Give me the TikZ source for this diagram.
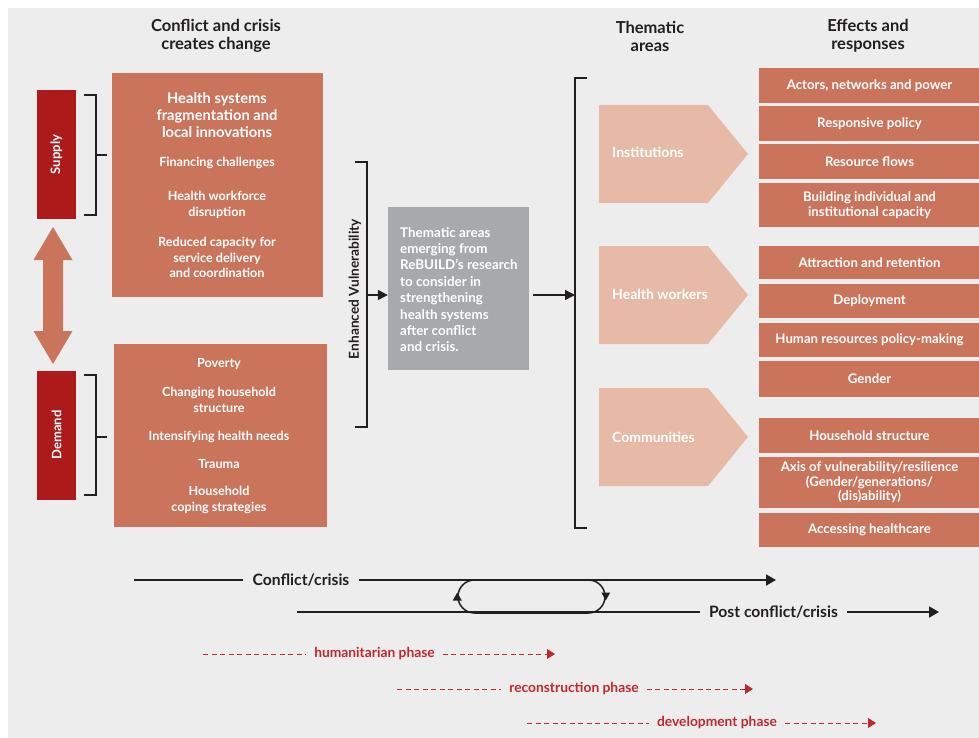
\documentclass[tikz,border=0pt]{standalone}
\usepackage{fontspec}
\setmainfont{Lato}
\usetikzlibrary{arrows.meta,shapes.misc,calc}

\definecolor{bggray}{RGB}{237,237,237}
\definecolor{ink}{RGB}{35,31,32}
\definecolor{causefill}{RGB}{202,116,92}
\definecolor{darkred}{RGB}{173,26,26}
\definecolor{peach}{RGB}{230,186,166}
\definecolor{greybox}{RGB}{167,169,172}
\definecolor{phasered}{RGB}{192,40,45}

\begin{document}
\begin{tikzpicture}[x=1pt, y=-1pt,
	header/.style={align=center, text=ink, font=\bfseries\fontsize{16.5}{18}\selectfont},
	sidebar/.style={fill=darkred, text=white, rotate=90, minimum width=129, minimum height=39,
		inner sep=0, font=\bfseries\fontsize{13}{14}\selectfont},
	cause/.style={fill=causefill, inner sep=0},
	item/.style={text=white, align=center, inner sep=0, font=\bfseries\fontsize{12.6}{16}\selectfont},
	bracket/.style={draw=ink, line width=1.6pt},
	flow/.style={draw=ink, line width=1.5pt, -{Triangle[length=10pt,width=10pt]}},
	effect/.style={fill=causefill, text=white, align=center, minimum width=221, inner sep=0,
		font=\bfseries\fontsize{13.2}{14.5}\selectfont},
	themetxt/.style={anchor=west, text=white, inner sep=0, font=\bfseries\fontsize{14}{16}\selectfont},
	timeline/.style={draw=ink, line width=1.8pt},
	timetxt/.style={text=ink, inner xsep=9pt, font=\bfseries\fontsize{15.7}{17}\selectfont},
	phase/.style={draw=phasered, line width=0.9pt, dash pattern=on 5pt off 3.5pt},
	phasetxt/.style={text=phasered, inner xsep=8pt, font=\bfseries\fontsize{13.8}{15}\selectfont},
]

% canvas %{{{2

	\useasboundingbox (0,0) rectangle (979,738);
	\fill[bggray] (8,8) rectangle (979,738);

% headers %{{{2

	\node[header] (hcrisis) at (216,36) {Conflict and crisis\\creates change};
	\node[header] (htheme)  at (650,36) {Thematic\\areas};
	\node[header] (heffect) at (868,36) {Effects and\\responses};

% supply and demand %{{{2

	\node[sidebar] (supply) at (56.5,154.5) {Supply};
	\node[sidebar] (demand) at (56.5,435)   {Demand};

	% two way arrow
	\fill[causefill] (53,227) -- (72.5,260) -- (63,260) -- (63,331) -- (72.5,331)
		-- (53,364) -- (33.5,331) -- (43,331) -- (43,260) -- (33.5,260) -- cycle;

	% brackets
	\draw[bracket] (84,95) -- (96,95) -- (96,215) -- (84,215);
	\draw[bracket] (96,155) -- (107,155);
	\draw[bracket] (84,375) -- (96,375) -- (96,495) -- (84,495);
	\draw[bracket] (96,437) -- (107,437);

% cause boxes %{{{2

	\node[cause, minimum width=211, minimum height=224] (health) at (217.5,185) {};
	\node[cause, minimum width=213, minimum height=183] (house)  at (220.5,435.5) {};

	\node[item, font=\bfseries\fontsize{14.7}{17}\selectfont] (frag) at (217,115.5)
		{Health systems\\fragmentation and\\local innovations};
	\node[item] (fin)  at (217,163)   {Financing challenges};
	\node[item] (work) at (217,204.5) {Health workforce\\disruption};
	\node[item, font=\bfseries\fontsize{12.6}{15.5}\selectfont] (capac) at (217,257.5)
		{Reduced capacity for\\service delivery\\and coordination};

	\node[item] (pov)  at (219,364)   {Poverty};
	\node[item] (chg)  at (219,400)   {Changing household\\structure};
	\node[item] (need) at (219,437)   {Intensifying health needs};
	\node[item] (trau) at (219,464)   {Trauma};
	\node[item] (cope) at (219,499.5) {Household\\coping strategies};

% enhanced vulnerability %{{{2

	\draw[bracket] (355,162) -- (367,162) -- (367,427) -- (355,427);
	\coordinate (evbr) at (367,295);
	\node[rotate=90, text=ink, inner sep=0, font=\bfseries\fontsize{13.7}{16}\selectfont]
		(evtxt) at (355,289) {Enhanced Vulnerability};

	\node[fill=greybox, minimum width=141, minimum height=163, inner sep=0] (grey) at (458.5,288.5) {};
	\node[item, anchor=west, align=left, font=\bfseries\fontsize{13.4}{16.4}\selectfont]
		(greytxt) at (400,289.5) {Thematic areas\\emerging from\\ReBUILD's research\\to consider in\\strengthening\\health systems\\after conflict\\and crisis.};

	\draw[flow] (evbr) -- (evbr -| grey.west);

	% big bracket
	\coordinate (bigbr) at (575,295);
	\draw[flow] ([xshift=4pt]grey.east |- bigbr) -- (bigbr);
	\draw[bracket] (587,78) -- (575,78) -- (575,528) -- (587,528);

% thematic areas %{{{2

	\foreach \y in {105,246,388}
		\fill[peach] (599,\y) -- (708,\y) -- (748,\y+49) -- (708,\y+98) -- (599,\y+98) -- cycle;

	\node[themetxt] (inst) at (612,152) {Institutions};
	\node[themetxt] (hwork) at (612,294) {Health workers};
	\node[themetxt] (comm) at (612,437) {Communities};

% effects and responses %{{{2

	\foreach \ya/\yb/\txt [count=\i] in {
		68/103/{Actors, networks and power},
		106/141/{Responsive policy},
		144/179/{Resource flows},
		183/227/{Building individual and\\institutional capacity},
		246/279/{Attraction and retention},
		284/318/{Deployment},
		323/357/{Human resources policy-making},
		361/397/{Gender},
		418/453/{Household structure},
		457/508/{Axis of vulnerability/resilience\\(Gender/generations/\\(dis)ability)},
		513/547/{Accessing healthcare}}
		\node[effect, minimum height={(\yb-\ya)*1pt}] (eff\i) at (869.5,{(\ya+\yb)/2}) {\txt};

% time line %{{{2

	\coordinate (c0) at (134,580);
	\node[timetxt] (ctxt) at (301,580) {Conflict/crisis};
	\coordinate (c1) at (776,580);
	\draw[timeline] (c0) -- (ctxt);
	\draw[timeline, -{Triangle[length=10pt,width=11pt]}] (ctxt) -- (c1);

	\coordinate (p0) at (297,612);
	\node[timetxt] (ptxt) at (773.5,612) {Post conflict/crisis};
	\coordinate (p1) at (939,612);
	\draw[timeline] (p0) -- (ptxt);
	\draw[timeline, -{Triangle[length=10pt,width=11pt]}] (ptxt) -- (p1);

	% loop between the two
	\node[draw=ink, line width=1.5pt, rounded rectangle, minimum width=147, minimum height=33,
		inner sep=0] (loop) at (531.5,596.5) {};
	\fill[ink] (loop.west) ++(0,-4) -- ++(-4.5,8) -- ++(9,0) -- cycle;
	\fill[ink] (loop.east) ++(0,4) -- ++(-4.5,-8) -- ++(9,0) -- cycle;

% phases %{{{2

	\coordinate (h0) at (203,654);
	\node[phasetxt] (htxt) at (374.5,654) {humanitarian phase};
	\coordinate (h1) at (555,654);
	\draw[phase] (h0) -- (htxt);
	\draw[phase, -{Triangle[length=8pt,width=10pt]}] (htxt) -- (h1);

	\coordinate (r0) at (397,689);
	\node[phasetxt] (rtxt) at (574,689) {reconstruction phase};
	\coordinate (r1) at (753,689);
	\draw[phase] (r0) -- (rtxt);
	\draw[phase, -{Triangle[length=8pt,width=10pt]}] (rtxt) -- (r1);

	\coordinate (d0) at (527,723);
	\node[phasetxt] (dtxt) at (717,723) {development phase};
	\coordinate (d1) at (876,723);
	\draw[phase] (d0) -- (dtxt);
	\draw[phase, -{Triangle[length=8pt,width=10pt]}] (dtxt) -- (d1);

% closing %{{{2

\end{tikzpicture}
\end{document}
